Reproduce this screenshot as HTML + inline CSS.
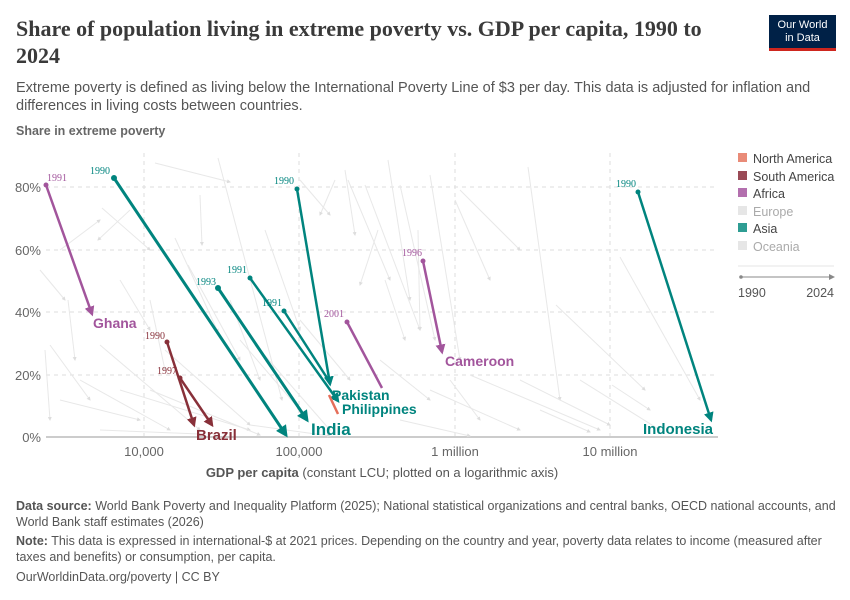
<!DOCTYPE html>
<html><head><meta charset="utf-8"><style>
body{margin:0;width:850px;height:600px;background:#fff;font-family:"Liberation Sans",sans-serif;position:relative;overflow:hidden}
.t{position:absolute;white-space:nowrap}
</style></head><body>
<div class="t" style="left:16px;top:15px;font-family:'Liberation Serif',serif;font-size:22px;font-weight:bold;color:#3a3a3a;line-height:27px;width:720px;white-space:normal">Share of population living in extreme poverty vs. GDP per capita, 1990 to 2024</div>
<div class="t" style="left:769px;top:15px;width:67px;height:36px;background:#002147;border-bottom:3px solid #ce261e;box-sizing:border-box;color:#fff;font-size:11px;text-align:center;line-height:13px;padding-top:4px">Our World<br>in Data</div>
<div class="t" style="left:16px;top:79px;font-size:14.5px;color:#555;line-height:18px;white-space:normal;width:820px">Extreme poverty is defined as living below the International Poverty Line of $3 per day. This data is adjusted for inflation and differences in living costs between countries.</div>
<div class="t" style="left:16px;top:124px;font-size:12.5px;color:#666;font-weight:bold">Share in extreme poverty</div>
<svg style="position:absolute;left:0;top:0" width="850" height="600">
<defs>
<marker id="ag" markerWidth="4" markerHeight="4" refX="3" refY="2" orient="auto"><path d="M0,0L4,2L0,4z" fill="#ddd"/></marker>
<marker id="at" markerWidth="4" markerHeight="4" refX="3" refY="2" orient="auto"><path d="M0,0L4,2L0,4z" fill="#00847e"/></marker>
<marker id="ap" markerWidth="4" markerHeight="4" refX="3" refY="2" orient="auto"><path d="M0,0L4,2L0,4z" fill="#a2559c"/></marker>
<marker id="ab" markerWidth="4" markerHeight="4" refX="3" refY="2" orient="auto"><path d="M0,0L4,2L0,4z" fill="#883039"/></marker>
</defs>
<g stroke="#ddd" stroke-dasharray="4,4" stroke-width="1">
<line x1="46" y1="187" x2="718" y2="187"/><line x1="46" y1="250" x2="718" y2="250"/><line x1="46" y1="312" x2="718" y2="312"/><line x1="46" y1="375" x2="718" y2="375"/>
<line x1="144" y1="153" x2="144" y2="437"/><line x1="299" y1="153" x2="299" y2="437"/><line x1="455" y1="153" x2="455" y2="437"/><line x1="610" y1="153" x2="610" y2="437"/>
</g>
<line x1="46" y1="437" x2="718" y2="437" stroke="#ccc" stroke-width="2"/>
<g stroke="#e8e8e8" stroke-width="1" marker-end="url(#ag)" fill="none">
<path d="M155,163L230,182"/><path d="M218,158L282,400"/><path d="M200,195L202,245"/><path d="M102,208L150,250"/><path d="M130,210L98,240"/><path d="M175,238L218,332"/><path d="M188,265L240,360"/><path d="M265,230L300,330"/><path d="M300,180L330,215"/><path d="M335,180L320,215"/><path d="M345,170L355,235"/><path d="M348,180L390,280"/><path d="M365,185L420,330"/><path d="M388,160L410,300"/><path d="M400,185L435,340"/><path d="M418,230L420,330"/><path d="M378,230L360,285"/><path d="M385,280L405,340"/><path d="M430,175L460,360"/><path d="M460,190L520,250"/><path d="M455,200L490,280"/><path d="M528,167L560,400"/><path d="M556,305L645,390"/><path d="M620,257L700,400"/><path d="M612,385L650,410"/><path d="M45,350L50,420"/><path d="M50,345L90,400"/><path d="M60,400L140,420"/><path d="M80,380L170,430"/><path d="M100,345L200,430"/><path d="M120,390L250,430"/><path d="M150,390L260,435"/><path d="M165,350L250,425"/><path d="M40,270L65,300"/><path d="M60,250L100,220"/><path d="M240,340L300,410"/><path d="M260,350L330,430"/><path d="M430,390L520,430"/><path d="M470,375L600,430"/><path d="M520,380L610,425"/><path d="M380,360L430,400"/><path d="M450,380L480,420"/><path d="M540,410L590,432"/><path d="M580,380L660,430"/><path d="M100,430L200,434"/><path d="M250,425L330,436"/><path d="M400,420L470,436"/><path d="M300,320L350,380"/><path d="M230,300L260,380"/><path d="M120,280L150,330"/><path d="M68,300L75,360"/><path d="M150,300L165,370"/>
</g>
<g fill="none" stroke-width="3">
<line x1="46" y1="185" x2="92" y2="314" stroke="#a2559c" stroke-width="2.5" marker-end="url(#ap)"/>
<line x1="347" y1="322" x2="382" y2="388" stroke="#a2559c" stroke-width="2.5"/>
<line x1="423" y1="261" x2="442" y2="352" stroke="#a2559c" stroke-width="2.5" marker-end="url(#ap)"/>
<line x1="114" y1="178" x2="286" y2="435" stroke="#00847e" marker-end="url(#at)"/>
<line x1="297" y1="189" x2="330" y2="384" stroke="#00847e" stroke-width="2.5" marker-end="url(#at)"/>
<line x1="218" y1="288" x2="307" y2="420" stroke="#00847e" marker-end="url(#at)"/>
<line x1="250" y1="278" x2="338" y2="401" stroke="#00847e" stroke-width="2.5" marker-end="url(#at)"/>
<line x1="284" y1="311" x2="329" y2="381" stroke="#00847e" stroke-width="2.5"/>
<line x1="638" y1="192" x2="711" y2="420" stroke="#00847e" stroke-width="2.5" marker-end="url(#at)"/>
<line x1="329" y1="395" x2="338" y2="414" stroke="#e56e5a" stroke-width="2.5"/>
<line x1="167" y1="342" x2="194" y2="425" stroke="#883039" stroke-width="2.5" marker-end="url(#ab)"/>
<line x1="180" y1="378" x2="212" y2="425" stroke="#883039" stroke-width="2.5" marker-end="url(#ab)"/>
</g>
<g stroke="none">
<circle cx="46" cy="185" r="2.5" fill="#a2559c"/><circle cx="347" cy="322" r="2.5" fill="#a2559c"/><circle cx="423" cy="261" r="2.5" fill="#a2559c"/>
<circle cx="114" cy="178" r="3" fill="#00847e"/><circle cx="297" cy="189" r="2.5" fill="#00847e"/><circle cx="218" cy="288" r="3" fill="#00847e"/><circle cx="250" cy="278" r="2.5" fill="#00847e"/><circle cx="284" cy="311" r="2.5" fill="#00847e"/><circle cx="638" cy="192" r="2.5" fill="#00847e"/>
<circle cx="167" cy="342" r="2.5" fill="#883039"/><circle cx="180" cy="378" r="2.5" fill="#883039"/>
</g>
<g font-family="Liberation Serif,serif" font-size="10">
<text x="47" y="181" fill="#a2559c">1991</text><text x="90" y="174" fill="#00847e">1990</text><text x="274" y="184" fill="#00847e">1990</text><text x="196" y="285" fill="#00847e">1993</text><text x="227" y="273" fill="#00847e">1991</text><text x="262" y="306" fill="#00847e">1991</text><text x="324" y="317" fill="#a2559c">2001</text><text x="402" y="256" fill="#a2559c">1996</text><text x="616" y="187" fill="#00847e">1990</text><text x="145" y="339" fill="#883039">1990</text><text x="157" y="374" fill="#883039">1997</text>
</g>
<g font-family="Liberation Sans,sans-serif" font-weight="bold">
<text x="93" y="328" font-size="14" fill="#a2559c">Ghana</text>
<text x="445" y="366" font-size="14" fill="#a2559c">Cameroon</text>
<text x="196" y="440" font-size="15" fill="#883039">Brazil</text>
<text x="311" y="435" font-size="17" fill="#00847e">India</text>
<text x="332" y="400" font-size="14" fill="#00847e">Pakistan</text>
<text x="342" y="414" font-size="14" fill="#00847e">Philippines</text>
<text x="713" y="434" font-size="15" fill="#00847e" text-anchor="end">Indonesia</text>
</g>
<g font-size="13" fill="#666">
<text x="41" y="192" text-anchor="end">80%</text><text x="41" y="255" text-anchor="end">60%</text><text x="41" y="317" text-anchor="end">40%</text><text x="41" y="380" text-anchor="end">20%</text><text x="41" y="442" text-anchor="end">0%</text>
<text x="144" y="456" text-anchor="middle">10,000</text><text x="299" y="456" text-anchor="middle">100,000</text><text x="455" y="456" text-anchor="middle">1 million</text><text x="610" y="456" text-anchor="middle">10 million</text>
</g>
<text x="382" y="477" font-size="13" fill="#555" text-anchor="middle"><tspan font-weight="bold">GDP per capita</tspan> (constant LCU; plotted on a logarithmic axis)</text>
<g font-size="12.5">
<rect x="738" y="153" width="9" height="9" fill="#e98b78"/><text x="753" y="163" fill="#444">North America</text>
<rect x="738" y="171" width="9" height="9" fill="#9a4a56"/><text x="753" y="181" fill="#444">South America</text>
<rect x="738" y="188" width="9" height="9" fill="#b36fae"/><text x="753" y="198" fill="#444">Africa</text>
<rect x="738" y="206" width="9" height="9" fill="#e6e6e6"/><text x="753" y="216" fill="#aaa">Europe</text>
<rect x="738" y="223" width="9" height="9" fill="#2e9d93"/><text x="753" y="233" fill="#444">Asia</text>
<rect x="738" y="241" width="9" height="9" fill="#e6e6e6"/><text x="753" y="251" fill="#aaa">Oceania</text>
</g>
<line x1="738" y1="266" x2="834" y2="266" stroke="#e6e6e6"/>
<line x1="741" y1="277" x2="830" y2="277" stroke="#888"/><circle cx="741" cy="277" r="1.8" fill="#888"/><path d="M829,274L835,277L829,280z" fill="#888"/>
<text x="738" y="297" font-size="12.5" fill="#555">1990</text><text x="834" y="297" font-size="12.5" fill="#555" text-anchor="end">2024</text>
</svg>
<div class="t" style="left:16px;top:498px;font-size:12.5px;color:#555;line-height:16px;white-space:normal;width:825px"><b>Data source:</b> World Bank Poverty and Inequality Platform (2025); National statistical organizations and central banks, OECD national accounts, and World Bank staff estimates (2026)</div>
<div class="t" style="left:16px;top:533px;font-size:12.5px;color:#555;line-height:16px;white-space:normal;width:825px"><b>Note:</b> This data is expressed in international-$ at 2021 prices. Depending on the country and year, poverty data relates to income (measured after taxes and benefits) or consumption, per capita.</div>
<div class="t" style="left:16px;top:570px;font-size:12.5px;color:#555">OurWorldinData.org/poverty | CC BY</div>
</body></html>
